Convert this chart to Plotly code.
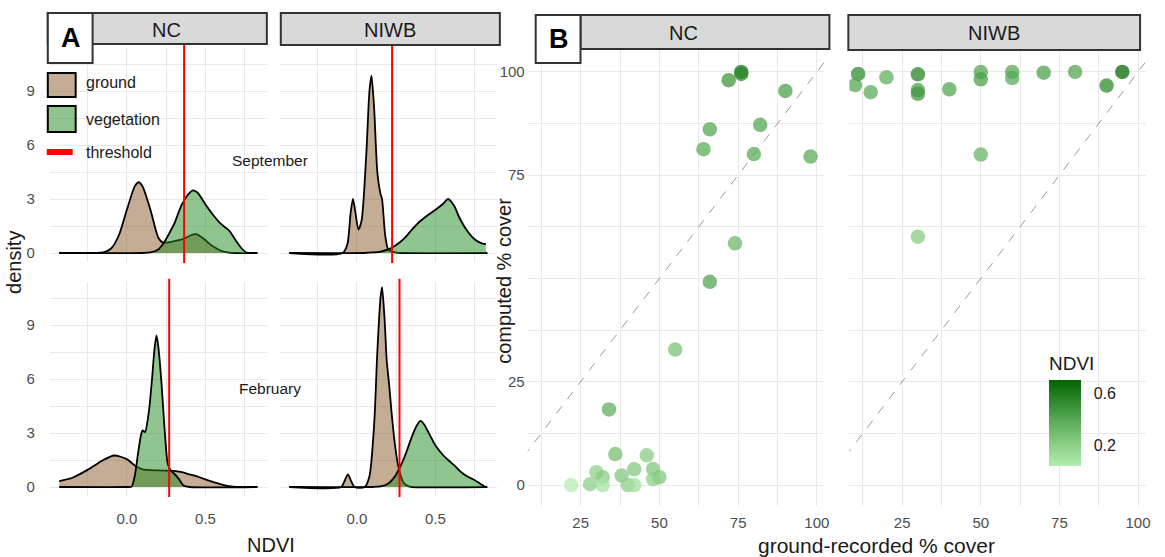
import plotly.graph_objects as go

W, H = 1165, 557
FONT = "Liberation Sans, Arial, sans-serif"

# ---------------- Panel A: density of NDVI ----------------
ndvi_nc_sep_ground = [-0.43, -0.2, -0.15, -0.1, -0.05, 0.0, 0.05, 0.075, 0.1, 0.15, 0.2, 0.23, 0.27,
                      0.32, 0.36, 0.41, 0.44, 0.48, 0.52, 0.56, 0.6, 0.65, 0.7, 0.83]
dens_nc_sep_ground = [0, 0, 0.03, 0.25, 1.0, 2.4, 3.7, 3.93, 3.7, 2.4, 0.85, 0.58, 0.6,
                      0.7, 0.78, 1.0, 1.05, 0.85, 0.55, 0.3, 0.12, 0.02, 0, 0]
ndvi_nc_sep_veg = [-0.43, 0.1, 0.15, 0.2, 0.23, 0.27, 0.3, 0.35, 0.4, 0.42, 0.45, 0.5, 0.55,
                   0.6, 0.65, 0.7, 0.73, 0.76, 0.8, 0.83]
dens_nc_sep_veg = [0, 0, 0.03, 0.2, 0.5, 1.1, 1.6, 2.7, 3.35, 3.48, 3.35, 2.7, 2.1,
                   1.6, 1.25, 0.6, 0.25, 0.03, 0, 0]

ndvi_niwb_sep_ground = [-0.43, -0.09, -0.06, -0.04, -0.025, -0.01, 0.01, 0.03, 0.06, 0.08, 0.093,
                        0.11, 0.13, 0.15, 0.16, 0.18, 0.2, 0.25, 0.3, 0.83]
dens_niwb_sep_ground = [0, 0, 0.5, 2.2, 3.0, 2.3, 1.3, 1.8, 5.5, 9.0, 9.85,
                        8.0, 4.5, 3.3, 3.0, 1.0, 0.2, 0.02, 0, 0]
ndvi_niwb_sep_veg = [-0.43, 0.05, 0.1, 0.15, 0.2, 0.25, 0.3, 0.35, 0.4, 0.45, 0.5, 0.55, 0.58,
                     0.62, 0.65, 0.7, 0.75, 0.8, 0.82]
dens_niwb_sep_veg = [0, 0, 0.03, 0.08, 0.2, 0.45, 0.8, 1.3, 1.75, 2.1, 2.4, 2.75, 3.0,
                     2.6, 2.0, 1.25, 0.75, 0.52, 0.5]

ndvi_nc_feb_ground = [-0.43, -0.35, -0.25, -0.15, -0.08, 0.0, 0.05, 0.1, 0.2, 0.3, 0.35, 0.4,
                      0.45, 0.5, 0.55, 0.6, 0.65, 0.7, 0.83]
dens_nc_feb_ground = [0.33, 0.5, 0.95, 1.5, 1.75, 1.55, 1.2, 0.98, 0.92, 0.9, 0.82, 0.7,
                      0.58, 0.42, 0.27, 0.15, 0.05, 0, 0]
ndvi_nc_feb_veg = [-0.43, 0.0, 0.03, 0.05, 0.07, 0.09, 0.1, 0.115, 0.14, 0.16, 0.175, 0.188,
                   0.2, 0.22, 0.24, 0.26, 0.28, 0.3, 0.33, 0.36, 0.4, 0.83]
dens_nc_feb_veg = [0, 0, 0.02, 0.6, 1.8, 2.9, 3.15, 3.05, 4.2, 6.0, 7.6, 8.43,
                   7.8, 5.8, 3.2, 1.3, 0.9, 0.75, 0.45, 0.08, 0, 0]

ndvi_niwb_feb_ground = [-0.43, -0.1, -0.08, -0.057, -0.035, -0.015, 0.05, 0.08, 0.11, 0.13, 0.15,
                        0.16, 0.175, 0.19, 0.205, 0.22, 0.24, 0.26, 0.28, 0.3, 0.33, 0.35, 0.83]
dens_niwb_feb_ground = [0, 0, 0.3, 0.7, 0.3, 0, 0, 0.6, 3.5, 7.5, 10.5,
                        11.1, 9.5, 7.0, 5.7, 4.2, 2.5, 1.3, 0.6, 0.2, 0.03, 0, 0]
ndvi_niwb_feb_veg = [-0.43, 0.1, 0.15, 0.2, 0.25, 0.3, 0.35, 0.38, 0.405, 0.43, 0.46, 0.5, 0.55,
                     0.58, 0.62, 0.66, 0.7, 0.75, 0.8, 0.82]
dens_niwb_feb_veg = [0, 0, 0.03, 0.2, 0.7, 1.6, 2.8, 3.4, 3.67, 3.45, 2.95, 2.3, 1.75,
                     1.5, 1.2, 0.85, 0.6, 0.38, 0.1, 0]

threshold_sep = [0.364, 0.224]   # NC, NIWB
threshold_feb = [0.269, 0.271]   # NC, NIWB

# ---------------- Panel B: ground-recorded vs computed cover ----------------
ground_nc = [76, 76, 72, 90, 66, 82, 64, 80, 98, 74, 66, 55, 34, 36, 46, 30, 32, 38, 42, 48,
             50, 48, 22, 28, 32, 40, 42]
computed_nc = [100, 99.5, 98, 95.4, 86.1, 87.2, 81.3, 80.1, 79.5, 58.5, 49.2, 32.8, 18.3, 7.5,
               7.2, 3.1, 1.9, 2.3, 3.8, 3.9, 1.9, 1.4, 0, 0.2, 0, 0, 0]
ndvi_nc = [0.62, 0.55, 0.5, 0.45, 0.42, 0.42, 0.4, 0.4, 0.4, 0.33, 0.42, 0.28, 0.38, 0.3,
           0.22, 0.2, 0.22, 0.25, 0.25, 0.25, 0.25, 0.2, 0.04, 0.2, 0.1, 0.2, 0.12]

ground_niwb = [11, 10, 15, 20, 30, 30, 30, 40, 50, 50, 60, 60, 70, 80, 90, 95, 50, 30]
computed_niwb = [99.5, 96.8, 95.1, 98.7, 99.4, 95.6, 94.7, 95.8, 100, 98.2, 100, 98.5, 99.8,
                 100, 96.7, 100, 80, 60.1]
ndvi_niwb = [0.55, 0.42, 0.4, 0.38, 0.58, 0.45, 0.48, 0.42, 0.42, 0.45, 0.42, 0.4, 0.45,
             0.42, 0.55, 0.7, 0.35, 0.22]

one_to_one = [0, 110]

A_x_ticks = [0, 0.5]
A_x_ticktext = ["0.0", "0.5"]
A_y_ticks = [0, 3, 6, 9]
B_ticks = [0, 25, 50, 75, 100]
B_y_ticktext = ["0", "25", "", "75", "100"]
B_x_ticks = [25, 50, 75, 100]

GROUND_FILL = "rgba(139,90,43,0.5)"
VEG_FILL = "rgba(34,139,34,0.5)"
GRID = "#e9e9e9"
TICKC = "#4d4d4d"


def px(x):
    return x / W


def py(y):
    return 1 - y / H


fig = go.Figure()


def add_density(x, y, fill, n):
    fig.add_trace(go.Scatter(
        x=x, y=y, mode="lines", fill="tozeroy", fillcolor=fill,
        line=dict(color="black", width=1.8, shape="spline", smoothing=0.7),
        xaxis="x" + n, yaxis="y" + n, showlegend=False, hoverinfo="skip"))


add_density(ndvi_nc_sep_ground, dens_nc_sep_ground, GROUND_FILL, "")
add_density(ndvi_nc_sep_veg, dens_nc_sep_veg, VEG_FILL, "")
add_density(ndvi_niwb_sep_ground, dens_niwb_sep_ground, GROUND_FILL, "2")
add_density(ndvi_niwb_sep_veg, dens_niwb_sep_veg, VEG_FILL, "2")
add_density(ndvi_nc_feb_ground, dens_nc_feb_ground, GROUND_FILL, "3")
add_density(ndvi_nc_feb_veg, dens_nc_feb_veg, VEG_FILL, "3")
add_density(ndvi_niwb_feb_ground, dens_niwb_feb_ground, GROUND_FILL, "4")
add_density(ndvi_niwb_feb_veg, dens_niwb_feb_veg, VEG_FILL, "4")

# 1:1 reference lines
for n in ["5", "6"]:
    fig.add_trace(go.Scatter(x=one_to_one, y=one_to_one, mode="lines",
                             line=dict(color="#9a9a9a", width=1, dash="dash"),
                             xaxis="x" + n, yaxis="y" + n, showlegend=False, hoverinfo="skip"))

fig.add_trace(go.Scatter(x=ground_nc, y=computed_nc, mode="markers",
                         marker=dict(size=14.5, color=ndvi_nc, coloraxis="coloraxis", opacity=0.72,
                                     line=dict(width=0)),
                         xaxis="x5", yaxis="y5", showlegend=False))
fig.add_trace(go.Scatter(x=ground_niwb, y=computed_niwb, mode="markers",
                         marker=dict(size=14.5, color=ndvi_niwb, coloraxis="coloraxis", opacity=0.72,
                                     line=dict(width=0)),
                         xaxis="x6", yaxis="y6", showlegend=False))

# ---------------- axes ----------------
def ax_a_x(domain, anchor, labels):
    return dict(domain=domain, anchor=anchor, range=[-0.49, 0.89], tickvals=A_x_ticks,
                ticktext=A_x_ticktext, showticklabels=labels, showgrid=True, gridcolor=GRID,
                gridwidth=1.1, zeroline=False, showline=False, ticks="",
                tickfont=dict(family=FONT, size=15, color=TICKC), ticklabelstandoff=12,
                minor=dict(tickvals=[-0.25, 0.25, 0.75], showgrid=True, gridcolor=GRID, gridwidth=0.8))


def ax_a_y(domain, anchor, labels):
    return dict(domain=domain, anchor=anchor, range=[-0.5, 11.39], tickvals=A_y_ticks,
                showticklabels=labels, showgrid=True, gridcolor=GRID, gridwidth=1.1,
                zeroline=False, showline=False, ticks="",
                tickfont=dict(family=FONT, size=15, color=TICKC), ticklabelstandoff=14,
                minor=dict(tickvals=[1.5, 4.5, 7.5, 10.5], showgrid=True, gridcolor=GRID, gridwidth=0.8))


def ax_b_x(domain, anchor):
    return dict(domain=domain, anchor=anchor, range=[8.2, 102.4], tickvals=B_x_ticks,
                showgrid=True, gridcolor=GRID, gridwidth=1.1, zeroline=False, showline=False,
                ticks="", tickfont=dict(family=FONT, size=15, color=TICKC), ticklabelstandoff=6,
                minor=dict(tickvals=[12.5, 37.5, 62.5, 87.5], showgrid=True, gridcolor=GRID, gridwidth=0.8))


def ax_b_y(domain, anchor, labels):
    return dict(domain=domain, anchor=anchor, range=[-5.08, 105.3], tickvals=B_ticks,
                ticktext=B_y_ticktext, showticklabels=labels, showgrid=True, gridcolor=GRID,
                gridwidth=1.1, zeroline=False, showline=False, ticks="",
                tickfont=dict(family=FONT, size=15, color=TICKC), ticklabelstandoff=2,
                minor=dict(tickvals=[12.5, 37.5, 62.5, 87.5], showgrid=True, gridcolor=GRID, gridwidth=0.8))


colA1 = [px(50), px(268)]
colA2 = [px(281), px(499)]
rowSep = [py(262), py(48)]
rowFeb = [py(496), py(282)]
colB1 = [px(530), px(828)]
colB2 = [px(853), px(1150.5)]
rowB = [py(506), py(50)]

fig.update_layout(
    xaxis=ax_a_x(colA1, "y", False), yaxis=ax_a_y(rowSep, "x", True),
    xaxis2=ax_a_x(colA2, "y2", False), yaxis2=ax_a_y(rowSep, "x2", False),
    xaxis3=ax_a_x(colA1, "y3", True), yaxis3=ax_a_y(rowFeb, "x3", True),
    xaxis4=ax_a_x(colA2, "y4", True), yaxis4=ax_a_y(rowFeb, "x4", False),
    xaxis5=ax_b_x(colB1, "y5"), yaxis5=ax_b_y(rowB, "x5", True),
    xaxis6=ax_b_x(colB2, "y6"), yaxis6=ax_b_y(rowB, "x6", False),
)

fig.update_layout(
    coloraxis=dict(
        colorscale=[[0, "#b4eeb0"], [0.5, "#5fae5c"], [1, "#006400"]],
        cmin=min(ndvi_nc + ndvi_niwb), cmax=max(ndvi_nc + ndvi_niwb),
        colorbar=dict(x=px(1054), xanchor="left", y=py(380), yanchor="top",
                      len=86, lenmode="pixels", thickness=32, thicknessmode="pixels",
                      xpad=0, ypad=0, outlinewidth=0, tickvals=[0.2, 0.6],
                      ticks="outside", ticklen=10, tickcolor="rgba(0,0,0,0)",
                      tickfont=dict(family=FONT, size=16, color="#1a1a1a"), title=dict(text=""))
    )
)

# ---------------- shapes: thresholds, strips, legend ----------------
shapes = []
for xr, yr, t in [("x", "y", threshold_sep[0]), ("x2", "y2", threshold_sep[1]),
                  ("x3", "y3", threshold_feb[0]), ("x4", "y4", threshold_feb[1])]:
    shapes.append(dict(type="line", xref=xr, yref=yr + " domain", x0=t, x1=t, y0=-0.005, y1=1.015,
                       line=dict(color="#ff0000", width=2), layer="above"))


def prect(x0, y0, x1, y1, fill, lw=2, lc="#333333"):
    return dict(type="rect", xref="paper", yref="paper", x0=px(x0), x1=px(x1), y0=py(y1), y1=py(y0),
                fillcolor=fill, line=dict(color=lc, width=lw), layer="above")


STRIP = "#d9d9d9"
shapes += [
    prect(48, 13, 268, 44, STRIP),
    prect(48, 13, 93, 63, "white"),
    prect(282, 13, 502, 45, STRIP),
    prect(583, 15, 833, 49, STRIP),
    prect(538, 15, 583, 63, "white"),
    prect(852, 15, 1145, 50, STRIP),
    # legend swatches
    prect(48, 73, 76, 97, GROUND_FILL, lw=2, lc="black"),
    prect(48, 106, 76, 132, VEG_FILL, lw=2, lc="black"),
    dict(type="line", xref="paper", yref="paper", x0=px(47), x1=px(73), y0=py(152), y1=py(152),
         line=dict(color="#ff0000", width=6), layer="above"),
]
fig.update_layout(shapes=shapes)


def ann(text, x, y, size, color="#1a1a1a", xanchor="center", angle=0, bold=False):
    return dict(text=("<b>%s</b>" % text) if bold else text, x=px(x), y=py(y), xref="paper",
                yref="paper", xanchor=xanchor, yanchor="middle", showarrow=False, textangle=angle,
                font=dict(family=FONT, size=size, color=color))


annotations = [
    ann("NC", 167, 30, 20), ann("NIWB", 392, 30, 20),
    ann("NC", 686, 33, 20), ann("NIWB", 998, 33, 20),
    ann("A", 71, 38, 27, color="black", bold=True),
    ann("B", 561, 39, 27, color="black", bold=True),
    ann("ground", 84, 82, 16, xanchor="left"),
    ann("vegetation", 84, 119, 16, xanchor="left"),
    ann("threshold", 84, 152, 16, xanchor="left"),
    ann("September", 271, 161, 15.5),
    ann("February", 271, 388, 15.5),
    ann("density", 14, 262, 20, angle=-90),
    ann("NDVI", 272, 545, 20),
    ann("computed % cover", 506, 281, 20, angle=-90),
    ann("ground-recorded % cover", 880, 545, 21),
    ann("NDVI", 1052, 363, 19, xanchor="left"),
]
fig.update_layout(annotations=annotations)

fig.update_layout(width=W, height=H, margin=dict(l=0, r=0, t=0, b=0),
                  paper_bgcolor="white", plot_bgcolor="white", showlegend=False,
                  font=dict(family=FONT))

fig.write_html("out.html", config={"displayModeBar": False},
               post_script="document.body.style.margin='0';document.body.style.overflow='hidden';")
